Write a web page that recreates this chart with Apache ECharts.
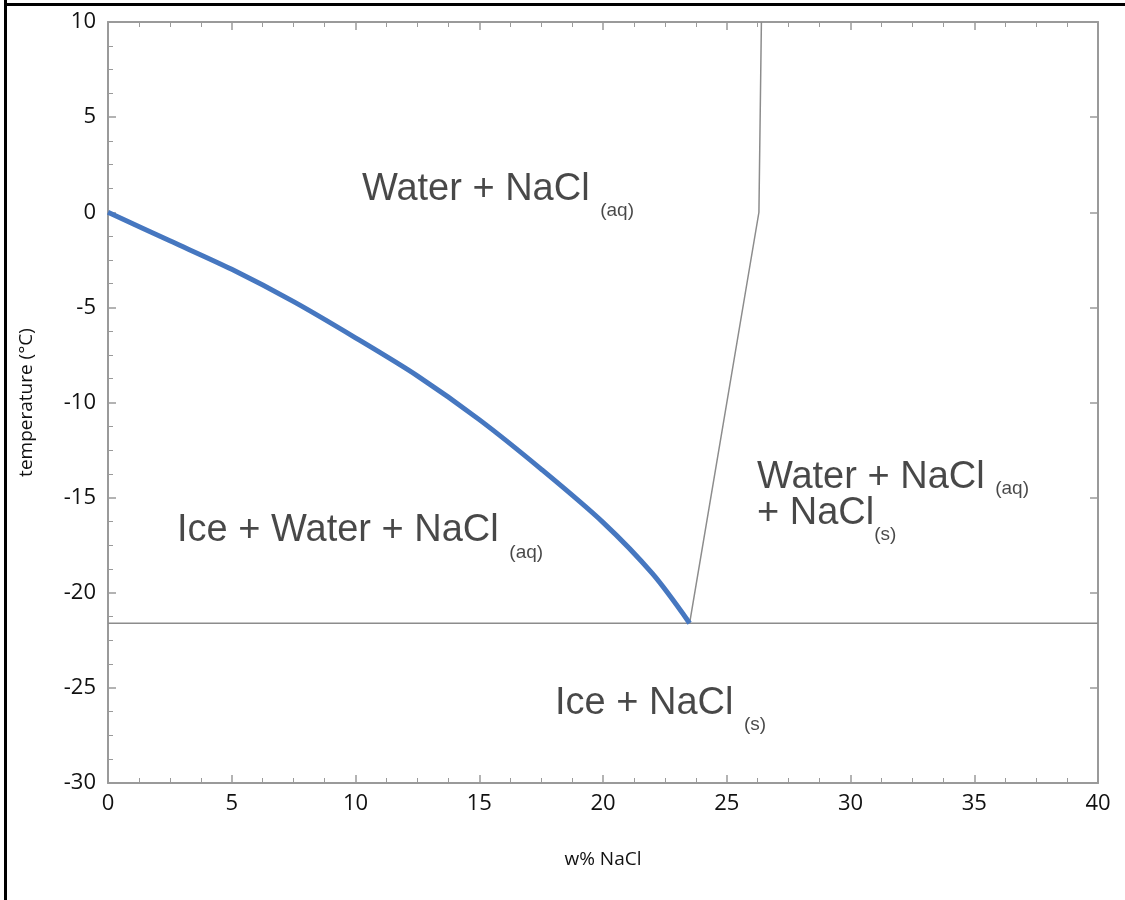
<!DOCTYPE html>
<html>
<head>
<meta charset="utf-8">
<script src="https://cdn.jsdelivr.net/npm/echarts@6/dist/echarts.min.js"></script>
<style>
  html, body { margin: 0; padding: 0; background: #fff; }
  #chart { width: 1125px; height: 900px; }
</style>
</head>
<body>
<div id="chart"></div>
<script>
// liquidus (ice + brine boundary)
const liquidusX = [0, 2.5, 5, 7.5, 10, 12.5, 15, 17.5, 20, 22, 23.5]
const liquidusT = [0, -1.5, -3.0, -4.7, -6.6, -8.6, -10.9, -13.5, -16.3, -19.0, -21.6]
// NaCl solubility line
const solubX = [23.5, 26.3, 26.4]
const solubT = [-21.6, 0, 10]
// eutectic
const eutecticX = [0, 40]
const eutecticT = [-21.6, -21.6]

// region labels: [x, T, main text, subscript]
const regionLabels = [
  [10.26, 1.22, 'Water + NaCl ', '(aq)'],
  [2.79, -16.75, 'Ice + Water + NaCl ', '(aq)'],
  [26.22, -13.92, 'Water + NaCl ', '(aq)'],
  [26.22, -15.81, '+ NaCl', '(s)'],
  [18.06, -25.8, 'Ice + NaCl ', '(s)']
]
// the first line of the two-line label has its subscript sitting higher
const raisedSub = [2]

const zip = (xs, ys) => xs.map((x, i) => [x, ys[i]])

const axisGray = '#9a9a9a'
const tickFont = { fontFamily: 'Open Sans', fontSize: 22, color: '#111' }

function frameAxis(extra) {
  return Object.assign({
    type: 'value',
    interval: 5,
    axisLine: { show: true, onZero: false, lineStyle: { color: axisGray, width: 2 } },
    axisTick: { show: true, inside: true, length: 8, lineStyle: { color: axisGray, width: 1.5 } },
    minorTick: { show: true, splitNumber: 4, length: 5, lineStyle: { color: axisGray } },
    splitLine: { show: false }
  }, extra)
}

const chart = echarts.init(document.getElementById('chart'))

chart.setOption({
  animation: false,
  backgroundColor: '#fff',
  grid: { left: 108, top: 22, right: 27, bottom: 117 },
  xAxis: [
    frameAxis({
      min: 0, max: 40,
      name: 'w% NaCl',
      nameLocation: 'middle',
      nameGap: 67,
      nameTextStyle: { fontFamily: 'Open Sans', fontSize: 19, color: '#111' },
      axisLabel: Object.assign({ margin: 10 }, tickFont)
    }),
    frameAxis({ min: 0, max: 40, position: 'top', axisLabel: { show: false } })
  ],
  yAxis: [
    frameAxis({
      min: -30, max: 10,
      name: 'temperature (°C)',
      nameLocation: 'middle',
      nameGap: 72,
      nameTextStyle: { fontFamily: 'Open Sans', fontSize: 19, color: '#111' },
      axisLabel: Object.assign({ margin: 12 }, tickFont)
    }),
    frameAxis({ min: -30, max: 10, position: 'right', axisLabel: { show: false }, minorTick: { show: false } })
  ],
  graphic: [
    { type: 'rect', left: 4, top: 0, shape: { width: 3, height: 900 }, style: { fill: '#000' } },
    { type: 'rect', left: 4, top: 3, shape: { width: 1121, height: 3 }, style: { fill: '#000' } }
  ],
  series: [{
    type: 'line',
    data: zip(eutecticX, eutecticT),
    showSymbol: false,
    lineStyle: { color: '#8c8c8c', width: 1.5 },
    z: 2
  }, {
    type: 'line',
    data: zip(solubX, solubT),
    showSymbol: false,
    lineStyle: { color: '#8c8c8c', width: 1.5 },
    z: 2
  }, {
    type: 'line',
    data: zip(liquidusX, liquidusT),
    smooth: 0.3,
    showSymbol: false,
    lineStyle: { color: '#4677c0', width: 5 },
    z: 3
  }, {
    type: 'scatter',
    symbolSize: 0,
    data: regionLabels.map(r => ({ value: [r[0], r[1]], main: r[2], sub: r[3] })),
    label: {
      show: true,
      position: 'right',
      distance: 0,
      color: '#1a1a1a',
      formatter: p => {
        const subStyle = raisedSub.includes(p.dataIndex) ? 's2' : 's'
        return '{m|' + p.data.main + '}{' + subStyle + '|' + p.data.sub + '}'
      },
      rich: {
        m: { fontFamily: 'Liberation Sans', fontSize: 38, color: '#1a1a1a', lineHeight: 62 },
        s: { fontFamily: 'Liberation Sans', fontSize: 19, color: '#1a1a1a', lineHeight: 20, verticalAlign: 'bottom' },
        s2: { fontFamily: 'Liberation Sans', fontSize: 19, color: '#1a1a1a', lineHeight: 20, verticalAlign: 'middle', padding: [24, 0, 0, 0] }
      }
    },
    z: 4
  }]
})
</script>
</body>
</html>
